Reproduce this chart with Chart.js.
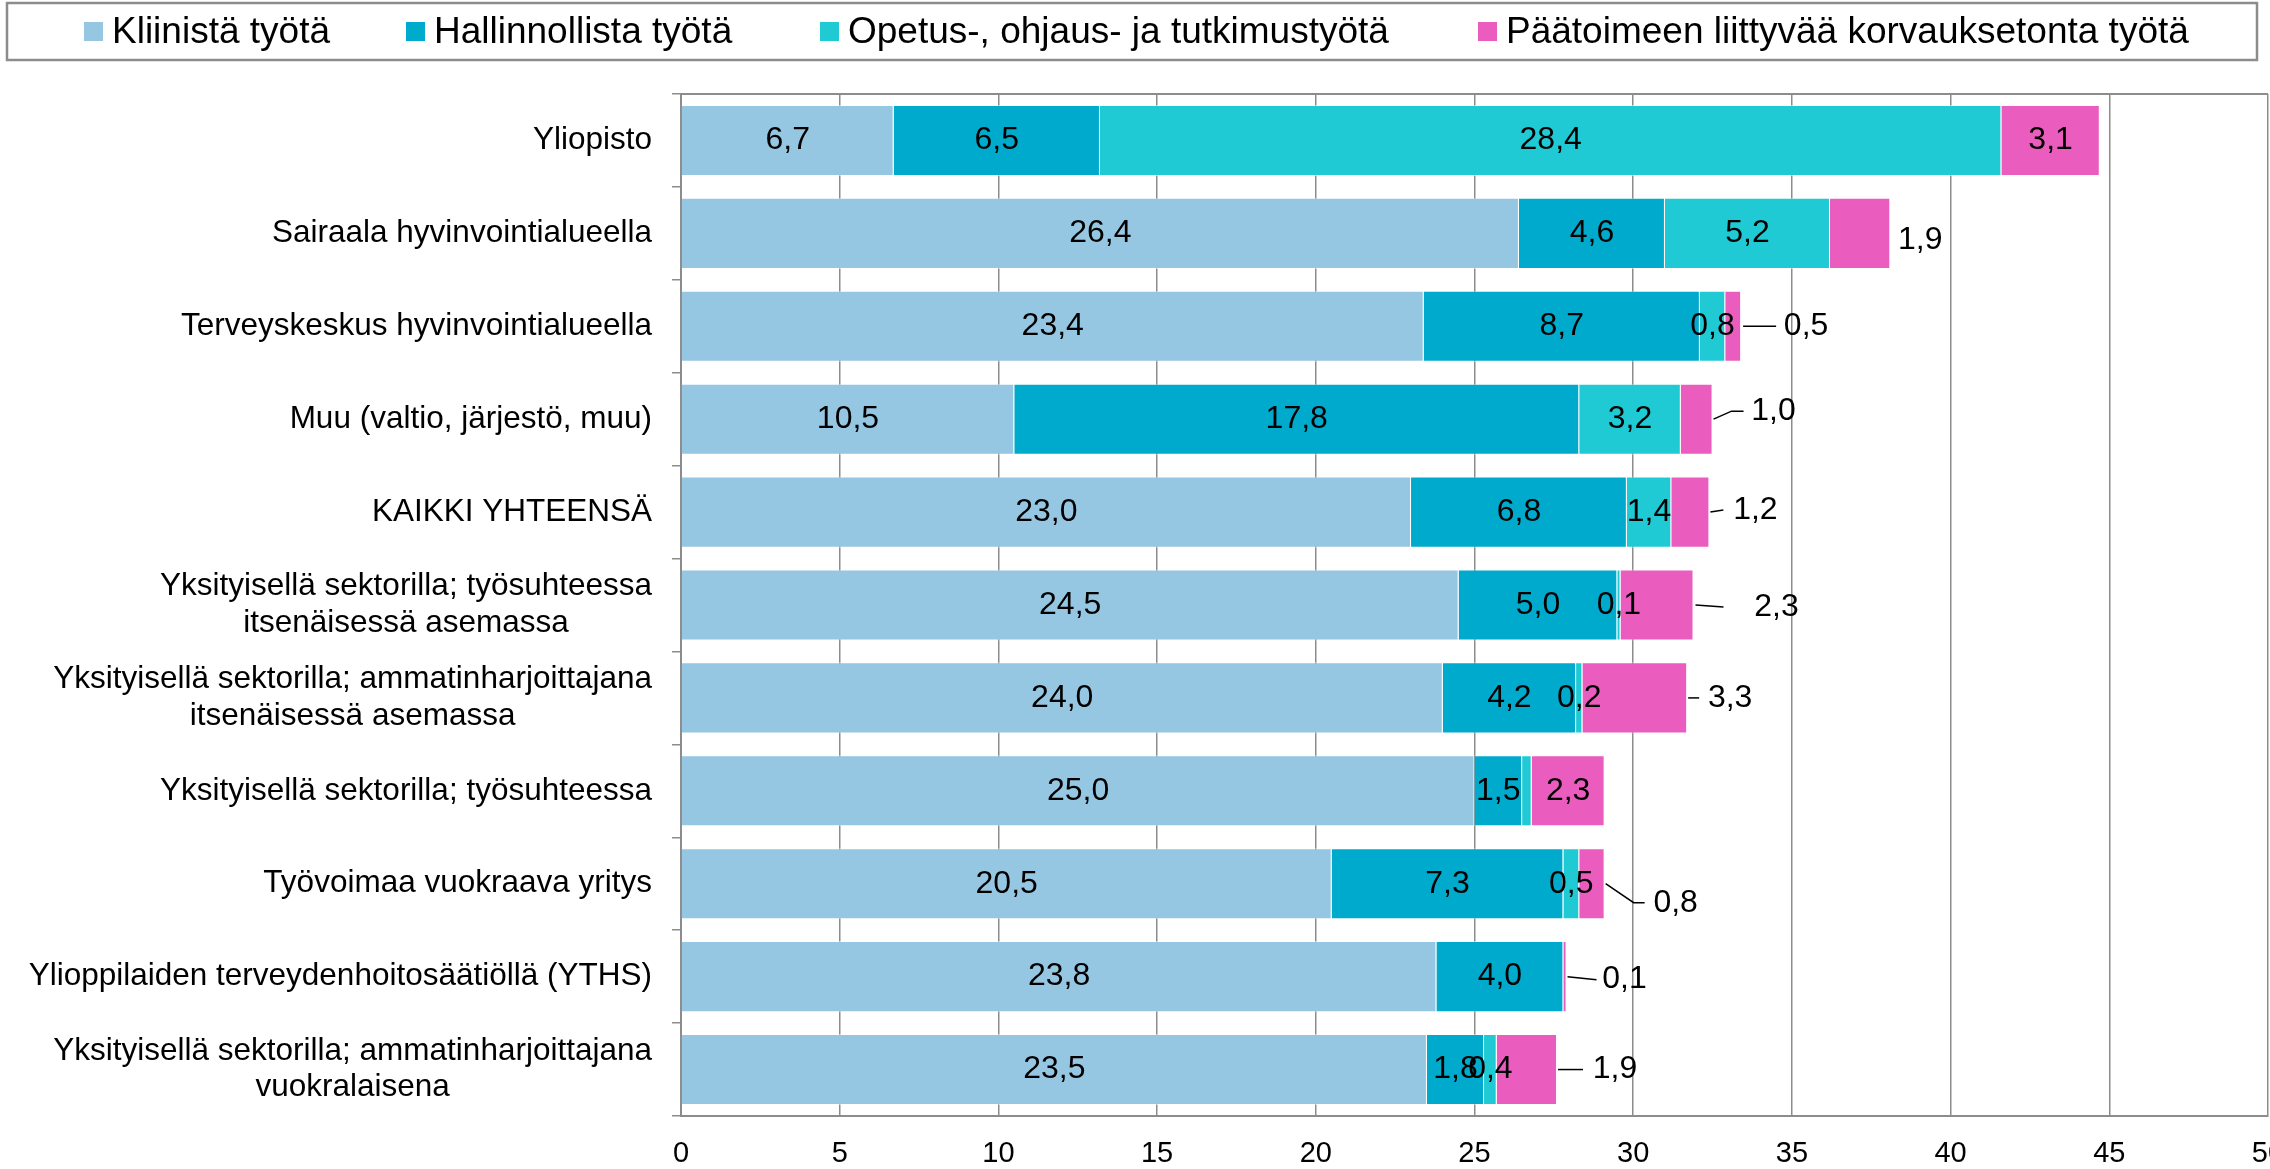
<!DOCTYPE html>
<html>
<head>
<meta charset="utf-8">
<script src="https://cdn.jsdelivr.net/npm/chart.js@4"></script>
<style>
  html, body { margin: 0; padding: 0; background: #fff; overflow: hidden; }
</style>
</head>
<body>
<canvas id="chart" width="2270" height="1169"></canvas>
<script>
// categories, top to bottom (multi-line labels as arrays)
const categories = [
  ['Yliopisto'],
  ['Sairaala hyvinvointialueella'],
  ['Terveyskeskus hyvinvointialueella'],
  ['Muu (valtio, järjestö, muu)'],
  ['KAIKKI YHTEENSÄ'],
  ['Yksityisellä sektorilla; työsuhteessa', 'itsenäisessä asemassa'],
  ['Yksityisellä sektorilla; ammatinharjoittajana', 'itsenäisessä asemassa'],
  ['Yksityisellä sektorilla; työsuhteessa'],
  ['Työvoimaa vuokraava yritys'],
  ['Ylioppilaiden terveydenhoitosäätiöllä (YTHS)'],
  ['Yksityisellä sektorilla; ammatinharjoittajana', 'vuokralaisena']
];

const seriesNames = [
  'Kliinistä työtä',
  'Hallinnollista työtä',
  'Opetus-, ohjaus- ja tutkimustyötä',
  'Päätoimeen liittyvää korvauksetonta työtä'
];

const kliininen      = [6.7, 26.4, 23.4, 10.5, 23.0, 24.5, 24.0, 25.0, 20.5, 23.8, 23.5];
const hallinnollinen = [6.5, 4.6, 8.7, 17.8, 6.8, 5.0, 4.2, 1.5, 7.3, 4.0, 1.8];
const opetus         = [28.4, 5.2, 0.8, 3.2, 1.4, 0.1, 0.2, 0.3, 0.5, 0, 0.4];
const korvaukseton   = [3.1, 1.9, 0.5, 1.0, 1.2, 2.3, 3.3, 2.3, 0.8, 0.1, 1.9];

const xTickValues = [0, 5, 10, 15, 20, 25, 30, 35, 40, 45, 50];

const seriesColors = ['#95C6E2', '#00AACC', '#1FCAD4', '#EA5DBE'];

// labels that the original does not show: [row, series]
const hiddenLabels = [[7, 2]];

// outside labels of the last series: offset from bar end, leader line elbow/end
const calloutLayout = [
  null,
  { dx: 30, dy: 7 },
  { dx: 65, dy: 0, sx: 2, ex: 35, lx: 35 },
  { dx: 61, dy: -8, ex: 19, lx: 31 },
  { dx: 46, dy: -2, ex: 14, lx: 14 },
  { dx: 83, dy: 2, sx: 2, ex: 30, lx: 30 },
  { dx: 43, dy: 0, ex: 12, lx: 12 },
  null,
  { dx: 71, dy: 19, ex: 29, lx: 40 },
  { dx: 58, dy: 3, ex: 30, lx: 30 },
  { dx: 58, dy: 0, ex: 26, lx: 26 }
];

// left edge of each legend marker
const legendX = [84, 406, 820, 1478];

const FONT = '"Liberation Sans", Arial, sans-serif';
const GRID = '#8c8c8c';
const fmt = v => v.toFixed(1).replace('.', ',');

const frameAndLegend = {
  id: 'frameAndLegend',
  afterDraw(chart) {
    const ctx = chart.ctx, area = chart.chartArea;
    ctx.save();
    // top edge of the plot area
    ctx.strokeStyle = GRID;
    ctx.lineWidth = 2;
    ctx.beginPath();
    ctx.moveTo(area.left, area.top);
    ctx.lineTo(area.right, area.top);
    ctx.stroke();
    // legend box
    ctx.lineWidth = 2.5;
    ctx.strokeRect(7, 3, 2250, 57);
    ctx.font = '37px ' + FONT;
    ctx.textBaseline = 'middle';
    chart.data.datasets.forEach((d, i) => {
      const x = legendX[i];
      ctx.fillStyle = d.backgroundColor;
      ctx.fillRect(x, 22, 19, 19);
      ctx.fillStyle = '#000';
      ctx.fillText(d.label, x + 28, 33);
    });
    ctx.restore();
  }
};

const categoryLabels = {
  id: 'categoryLabels',
  afterDraw(chart) {
    const ctx = chart.ctx, yScale = chart.scales.y;
    ctx.save();
    ctx.font = '31.5px ' + FONT;
    ctx.fillStyle = '#000';
    ctx.textAlign = 'center';
    ctx.textBaseline = 'middle';
    categories.forEach((lines, i) => {
      const cy = yScale.getPixelForValue(i);
      const w = Math.max(...lines.map(l => ctx.measureText(l).width));
      const cx = yScale.right - 29 - w / 2;
      lines.forEach((l, j) => {
        ctx.fillText(l, cx, cy + (j - (lines.length - 1) / 2) * 36.5);
      });
    });
    ctx.restore();
  }
};

const valueLabels = {
  id: 'valueLabels',
  afterDatasetsDraw(chart) {
    const ctx = chart.ctx;
    const last = chart.data.datasets.length - 1;
    ctx.save();
    ctx.font = '32px ' + FONT;
    ctx.fillStyle = '#000';
    ctx.strokeStyle = '#000';
    ctx.lineWidth = 1.5;
    ctx.textAlign = 'center';
    ctx.textBaseline = 'middle';
    chart.data.datasets.forEach((ds, di) => {
      chart.getDatasetMeta(di).data.forEach((bar, i) => {
        const v = ds.data[i];
        if (!v || hiddenLabels.some(([r, s]) => r === i && s === di)) return;
        const c = di === last ? calloutLayout[i] : null;
        if (c) {
          const yl = bar.y + c.dy;
          if (c.lx) {
            ctx.beginPath();
            ctx.moveTo(bar.x + (c.sx || 1), bar.y);
            ctx.lineTo(bar.x + c.ex, yl);
            ctx.lineTo(bar.x + c.lx, yl);
            ctx.stroke();
          }
          ctx.fillText(fmt(v), bar.x + c.dx, yl);
        } else {
          ctx.fillText(fmt(v), (bar.x + bar.base) / 2, bar.y);
        }
      });
    });
    ctx.restore();
  }
};

const seriesValues = [kliininen, hallinnollinen, opetus, korvaukseton];

new Chart(document.getElementById('chart'), {
  type: 'bar',
  data: {
    labels: categories,
    datasets: seriesNames.map((name, i) => ({
      label: name,
      data: seriesValues[i],
      backgroundColor: seriesColors[i],
      borderColor: 'rgba(255,255,255,0.45)',
      borderWidth: 1,
      barPercentage: 0.765,
      categoryPercentage: 1
    }))
  },
  options: {
    indexAxis: 'y',
    responsive: false,
    animation: false,
    devicePixelRatio: 1,
    layout: { padding: { top: 94, right: 2, left: 0, bottom: 0 } },
    plugins: {
      legend: { display: false },
      tooltip: { enabled: false }
    },
    scales: {
      x: {
        stacked: true,
        min: 0,
        max: 50,
        afterBuildTicks: s => { s.ticks = xTickValues.map(v => ({ value: v })); },
        afterFit: s => { s.height = 53; s.paddingLeft = 0; s.paddingRight = 0; },
        grid: { color: GRID, lineWidth: 1.5, drawTicks: false },
        border: { color: GRID, width: 2 },
        ticks: { padding: 21, color: '#000', font: { size: 29, family: FONT } }
      },
      y: {
        stacked: true,
        afterFit: s => { s.width = 681; s.paddingTop = 0; s.paddingBottom = 0; },
        grid: { drawOnChartArea: false, color: GRID, lineWidth: 1.5, tickLength: 9 },
        border: { color: GRID, width: 2 },
        ticks: { display: false }
      }
    }
  },
  plugins: [frameAndLegend, categoryLabels, valueLabels]
});
</script>
</body>
</html>
